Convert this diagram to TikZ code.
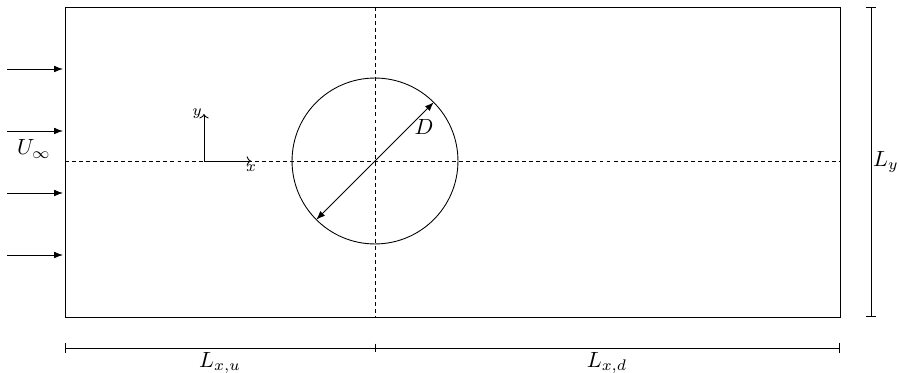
\documentclass[tikz,border=0pt]{standalone}
\usetikzlibrary{arrows.meta}
\begin{document}
\begin{tikzpicture}[x=0.455pt,y=-0.455pt,
  wall/.style={line width=0.4pt},
  centerline/.style={line width=0.4pt,dash pattern=on 1.8pt off 1.4pt},
  inflow/.style={line width=0.4pt,-{Latex[length=4pt,width=3pt]}},
  axisarrow/.style={line width=0.4pt,-{To[length=2pt]}},
  diam/.style={line width=0.4pt,{Latex[length=4pt,width=3pt]}-{Latex[length=4pt,width=3pt]}},
  dimline/.style={line width=0.4pt,|-|},
  lbl/.style={inner sep=0pt}]
\useasboundingbox (0,0) rectangle (899,373);
% domain corners
\coordinate (nw) at (65,7);
\coordinate (se) at (840,317);
\draw[wall] (nw) rectangle (se);
% center lines
\coordinate (ctop) at (375,7);
\coordinate (cbot) at (375,317);
\coordinate (cleft) at (65,161);
\coordinate (cright) at (840,161);
\draw[centerline] (ctop) -- (cbot);
\draw[centerline] (cleft) -- (cright);
% cylinder
\node[draw,circle,line width=0.4pt,minimum size=75.5pt,inner sep=0pt] (cyl) at (375,161) {};
\coordinate (d1) at (433.7,102.3);
\coordinate (d2) at (316.3,219.7);
\draw[diam] (d2) -- (d1);
\node[lbl] (D) at (424,127) {$D$};
% inflow arrows
\foreach \yy [count=\i] in {69,131,193,255}{
  \coordinate (a\i s) at (7,\yy);
  \coordinate (a\i e) at (63,\yy);
  \draw[inflow] (a\i s) -- (a\i e);
}
\node[lbl] (U) at (34,149) {$U_\infty$};
% axes
\coordinate (o) at (204,161);
\coordinate (ox) at (251,161);
\coordinate (oy) at (204,114);
\draw[axisarrow] (o) -- (ox);
\draw[axisarrow] (o) -- (oy);
\node[lbl,font=\scriptsize] (xl) at (251,168) {$x$};
\node[lbl,font=\scriptsize] (yl) at (197,114) {$y$};
% L_y
\coordinate (ly1) at (871,7);
\coordinate (ly2) at (871,317);
\draw[dimline] (ly1) -- (ly2);
\node[lbl] (Ly) at (886,162) {$L_y$};
% bottom dimensions
\coordinate (b1) at (65,348);
\coordinate (b2) at (375,348);
\coordinate (b3) at (840,348);
\draw[dimline] (b1) -- (b3);
\draw[line width=0.4pt] ([yshift=2pt]b2) -- ([yshift=-2pt]b2);
\node[lbl] (Lxu) at (220,363) {$L_{x,u}$};
\node[lbl] (Lxd) at (607,363) {$L_{x,d}$};
\end{tikzpicture}
\end{document}
